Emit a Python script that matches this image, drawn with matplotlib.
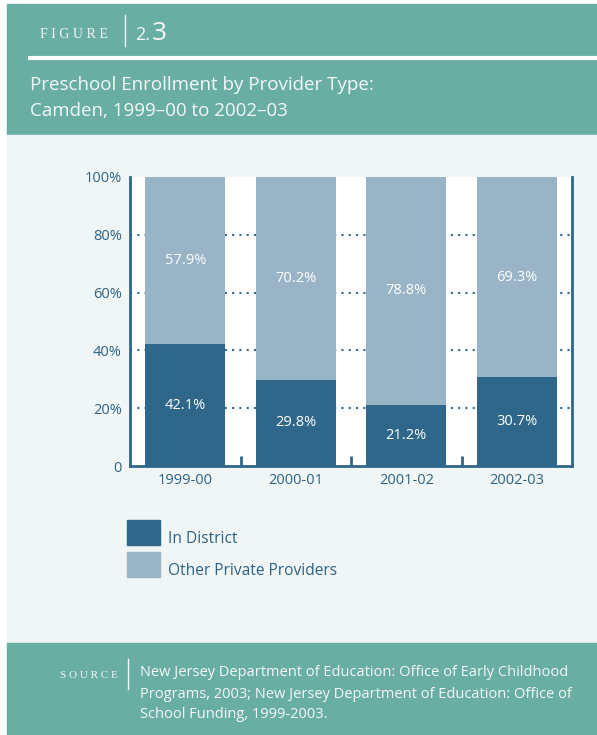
import numpy as np
import matplotlib.pyplot as plt
from matplotlib.patches import Rectangle
from matplotlib.lines import Line2D

years = ["1999-00", "2000-01", "2001-02", "2002-03"]
in_district = [42.1, 29.8, 21.2, 30.7]
other_private = [57.9, 70.2, 78.8, 69.3]
series_names = ["In District", "Other Private Providers"]

teal = "#68aea3"
panel = "#f0f5f5"
dark = "#2f678b"
light = "#98b4c6"
txt = "#2e6283"
white = "#f4f8f7"

W, H = 597, 735
plt.rcParams['font.family'] = ['Open Sans', 'DejaVu Sans']

fig = plt.figure(figsize=(W / 100, H / 100), dpi=100)
fig.patch.set_facecolor("white")


def fx(x):
    return x / W


def fy(y):
    return 1 - y / H


def box(x0, y0, x1, y1, color, z=-10):
    fig.patches.append(Rectangle((fx(x0), fy(y1)), fx(x1) - fx(x0), fy(y0) - fy(y1),
                                 transform=fig.transFigure, color=color, zorder=z))


# background blocks
box(7, 4, W, 135, teal)
box(7, 135, W, 643, panel)
box(7, 643, W, H, teal)

# header
fig.text(fx(40), fy(34), "F I G U R E", family="Liberation Serif", fontsize=10,
         color=white, va="center", ha="left")
fig.add_artist(Line2D([fx(125), fx(125)], [fy(15), fy(46)], transform=fig.transFigure,
                      color=white, lw=1))
fig.text(fx(135), fy(40), "2.", fontsize=13, color=white, va="baseline", ha="left")
fig.text(fx(152), fy(40), "3", fontsize=19, color=white, va="baseline", ha="left")
fig.add_artist(Line2D([fx(30), fx(595)], [fy(58), fy(58)], transform=fig.transFigure,
                      color="white", lw=3))
fig.text(fx(30), fy(85), "Preschool Enrollment by Provider Type:", fontsize=13.5,
         color=white, va="center", ha="left")
fig.text(fx(30), fy(111), "Camden, 1999\u201300 to 2002\u201303", fontsize=13.5,
         color=white, va="center", ha="left")

# chart
ax = fig.add_axes([fx(130), fy(466), fx(572) - fx(130), fy(177) - fy(466)])
ax.set_zorder(2)
ax.set_facecolor("white")
x = np.arange(len(years))
bw = 0.727
ax.bar(x, in_district, bw, color=dark, zorder=3)
ax.bar(x, other_private, bw, bottom=in_district, color=light, zorder=3)
for i in range(len(years)):
    ax.text(x[i], in_district[i] / 2, f"{in_district[i]:.1f}%", color="white",
            ha="center", va="center", fontsize=10.5, zorder=4)
    ax.text(x[i], in_district[i] + other_private[i] / 2, f"{other_private[i]:.1f}%",
            color="white", ha="center", va="center", fontsize=10.5, zorder=4)

ax.set_xlim(-0.5, 3.5)
ax.set_ylim(0, 100)
ax.set_yticks([0, 20, 40, 60, 80, 100])
ax.set_yticklabels(["0", "20%", "40%", "60%", "80%", "100%"])
ax.tick_params(axis="y", length=0, pad=6, labelsize=10.5, labelcolor=txt)
ax.set_xticks(x)
ax.set_xticklabels(years)
ax.tick_params(axis="x", length=0, pad=5, labelsize=10.5, labelcolor=txt)
ax.set_xticks([0.5, 1.5, 2.5], minor=True)
ax.tick_params(axis="x", which="minor", direction="in", length=7, width=2, color=dark)
for y in [20, 40, 60, 80]:
    ax.axhline(y, color=dark, lw=1.5, ls=(0, (1, 2.5)), zorder=1)
for s in ["left", "right", "bottom"]:
    ax.spines[s].set_color(dark)
    ax.spines[s].set_linewidth(2)
ax.spines["top"].set_visible(False)

# legend
for i, (name, c) in enumerate(zip(series_names, [dark, light])):
    y0 = 520 + i * 32
    box(127, y0, 160, y0 + 25, c, z=1)
    fig.text(fx(168), fy(y0 + 19), name, fontsize=11.2, color=txt, va="center", ha="left")

# footer
fig.text(fx(60), fy(675), "S O U R C E", family="Liberation Serif", fontsize=8,
         color=white, va="center", ha="left")
fig.add_artist(Line2D([fx(128), fx(128)], [fy(659), fy(689)], transform=fig.transFigure,
                      color=white, lw=1))
src = ["New Jersey Department of Education: Office of Early Childhood",
       "Programs, 2003; New Jersey Department of Education: Office of",
       "School Funding, 1999-2003."]
for i, line in enumerate(src):
    fig.text(fx(140), fy(673 + 21 * i), line, fontsize=10.5, color=white,
             va="center", ha="left")

fig.savefig("out.png", dpi=100)
